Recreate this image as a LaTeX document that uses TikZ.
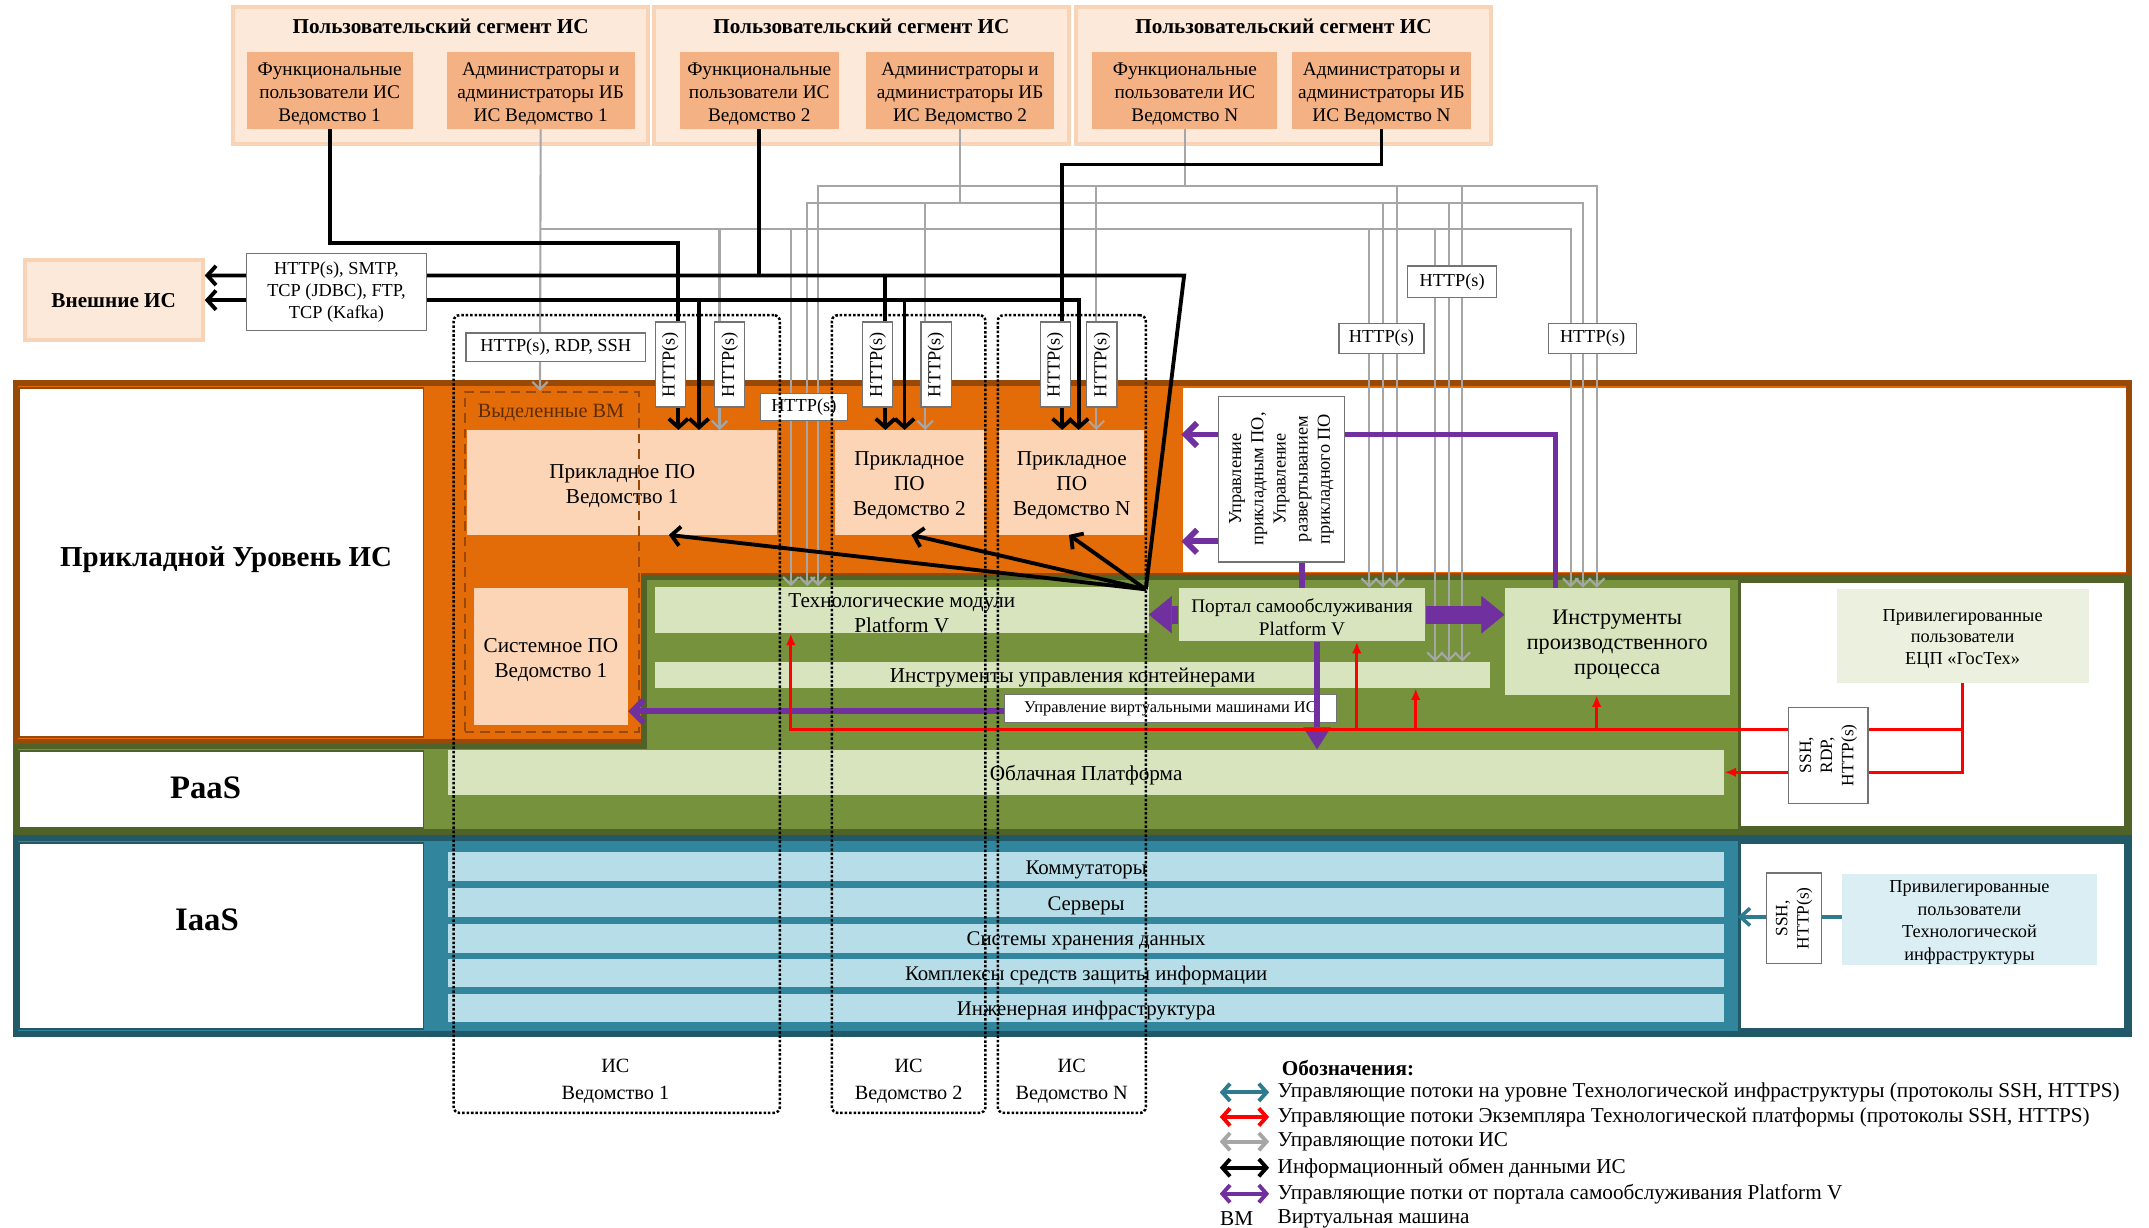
\documentclass[tikz,border=0pt]{standalone}
\usepackage{fontspec}
\setmainfont{Liberation Serif}
\usetikzlibrary{arrows.meta}
\usetikzlibrary{calc}
\usetikzlibrary{fit}
\definecolor{segfill}{HTML}{FDE9D9}
\definecolor{segedge}{HTML}{F9D3B6}
\definecolor{userfill}{HTML}{F4B183}
\definecolor{apporange}{HTML}{E36C09}
\definecolor{appbrown}{HTML}{984807}
\definecolor{apppeach}{HTML}{FBD5B5}
\definecolor{paasgreen}{HTML}{76923C}
\definecolor{paasedge}{HTML}{4F6228}
\definecolor{paasstripe}{HTML}{D7E4BD}
\definecolor{paaslight}{HTML}{EBF1DE}
\definecolor{iaasteal}{HTML}{31859C}
\definecolor{iaasedge}{HTML}{215968}
\definecolor{iaasstripe}{HTML}{B7DEE8}
\definecolor{iaaslight}{HTML}{DBEEF4}
\definecolor{flowpurple}{HTML}{7030A0}
\definecolor{flowred}{HTML}{FF0000}
\definecolor{flowgray}{HTML}{A6A6A6}
\definecolor{flowteal}{HTML}{2E7A8E}
\tikzset{segbox/.style = {fill=segfill, draw=segedge, line width=2pt, inner sep=0}}
\tikzset{segtitle/.style = {font=\bfseries\fontsize{11}{13}\selectfont, inner sep=0}}
\tikzset{userbox/.style = {fill=userfill, inner sep=0}}
\tikzset{usertext/.style = {align=center, inner sep=0, yshift=-1.8pt, font=\fontsize{10}{12}\selectfont}}
\tikzset{lblrow/.style = {fill=white, line width=1pt, inner sep=0}}
\tikzset{rowtext/.style = {font=\bfseries\fontsize{15}{17}\selectfont, inner sep=0}}
\tikzset{rowbig/.style = {font=\bfseries\fontsize{17}{19}\selectfont, inner sep=0}}
\tikzset{iaasbar/.style = {fill=iaasstripe, inner sep=0}}
\tikzset{iaastext/.style = {align=center, inner sep=0, yshift=-1.5pt, font=\fontsize{10.8}{12}\selectfont}}
\tikzset{paasbar/.style = {fill=paasstripe, inner sep=0}}
\tikzset{bartext/.style = {align=center, inner sep=0, yshift=-1.5pt, font=\fontsize{11}{13}\selectfont}}
\tikzset{appbox/.style = {fill=apppeach, inner sep=0}}
\tikzset{apptext/.style = {align=center, inner sep=0, yshift=-1.8pt, font=\fontsize{11}{13}\selectfont}}
\tikzset{vmbox/.style = {draw=appbrown, line width=1.1pt, dash pattern=on 5pt off 3pt, inner sep=0}}
\tikzset{lblbox/.style = {fill=white, draw=black!55, line width=0.6pt, inner sep=0, align=center,
                          font=\fontsize{9.5}{11.5}\selectfont}}
\tikzset{lbltext/.style = {align=center, inner sep=0, font=\fontsize{9.5}{11.5}\selectfont}}
\tikzset{isbox/.style = {draw=black, densely dotted, line width=1.3pt, rounded corners=3pt, inner sep=0}}
\tikzset{istext/.style = {align=center, inner sep=0, font=\fontsize{10.5}{14}\selectfont}}
\tikzset{blk/.style = {black, line width=2pt}}
\tikzset{blkarr/.style = {blk, -{Straight Barb[length=4.5pt,width=10pt]}}}
\tikzset{blkboth/.style = {blk, {Straight Barb[length=4.5pt,width=10pt]}-{Straight Barb[length=4.5pt,width=10pt]}}}
\tikzset{gry/.style = {flowgray, line width=1.1pt}}
\tikzset{gryarr/.style = {gry, -{Straight Barb[length=4pt,width=8pt]}}}
\tikzset{pur/.style = {flowpurple, line width=3pt}}
\tikzset{purarr/.style = {pur, -{Straight Barb[length=6pt,width=12pt]}}}
\tikzset{purfat/.style = {flowpurple, line width=0.33cm,
                          -{Triangle[length=0.42cm,width=0.68cm,line width=0.2pt]}}}
\tikzset{purdown/.style = {flowpurple, line width=0.12cm,
                           -{Triangle[length=0.4cm,width=0.5cm,line width=0.2pt]}}}
\tikzset{redarr/.style = {flowred, line width=1.5pt, -{Latex[length=6pt,width=5pt]}}}
\tikzset{tealarr/.style = {flowteal, line width=1.8pt, -{Straight Barb[length=5pt,width=9pt]}}}
\tikzset{legarr/.style = {line width=2pt, {Straight Barb[length=4pt,width=9pt]}-{Straight Barb[length=4pt,width=9pt]}}}
\tikzset{legtext/.style = {anchor=west, inner sep=0, font=\fontsize{11}{13}\selectfont}}

\begin{document}
\begin{tikzpicture}[x=0.025cm, y=-0.025cm]
\useasboundingbox (0,0) rectangle (1568,896);

% user segments
\node[segbox, fit={(170,5) (473,105)}] (seg1) {};
\node[segbox, fit={(477,5) (780,105)}] (seg2) {};
\node[segbox, fit={(785,5) (1088,105)}] (seg3) {};
\node[segtitle] (seg1t) at (321.5,19.5) {Пользовательский сегмент ИС};
\node[segtitle] (seg2t) at (628.5,19.5) {Пользовательский сегмент ИС};
\node[segtitle] (seg3t) at (936.5,19.5) {Пользовательский сегмент ИС};
\node[userbox, fit={(180,38) (301,94)}] (f1) {};
\node[userbox, fit={(326,38) (463,94)}] (a1) {};
\node[userbox, fit={(496,38) (612,94)}] (f2) {};
\node[userbox, fit={(632,38) (769,94)}] (a2) {};
\node[userbox, fit={(797,38) (932,94)}] (fN) {};
\node[userbox, fit={(943,38) (1073,94)}] (aN) {};
\node[usertext] (f1t) at (f1) {Функциональные\\пользователи ИС\\Ведомство 1};
\node[usertext] (a1t) at (a1) {Администраторы и\\администраторы ИБ\\ИС Ведомство 1};
\node[usertext] (f2t) at (f2) {Функциональные\\пользователи ИС\\Ведомство 2};
\node[usertext] (a2t) at (a2) {Администраторы и\\администраторы ИБ\\ИС Ведомство 2};
\node[usertext] (fNt) at (fN) {Функциональные\\пользователи ИС\\Ведомство N};
\node[usertext] (aNt) at (aN) {Администраторы и\\администраторы ИБ\\ИС Ведомство N};
\node[segbox, fit={(18,190) (148,248)}] (ext) {};
\node[segtitle] (extt) at (ext) {Внешние ИС};

% layers
\filldraw[draw=appbrown, line width=2.8pt, fill=apporange]
  (11.5,279.5) -- (1553.5,279.5) -- (1553.5,420) -- (470,420) -- (470,541) -- (11.5,541) -- cycle;
\node[lblrow, draw=appbrown, fit={(14,283) (309,538)}] (lapp) {};
\fill[white] (863,283) rectangle (1551,417);
\filldraw[draw=paasedge, line width=2.8pt, fill=paasgreen]
  (470,421.5) -- (1553.5,421.5) -- (1553.5,607) -- (11.5,607) -- (11.5,544.5) -- (470,544.5) -- cycle;
\node[lblrow, draw=paasedge, fit={(14,548) (309,604)}] (lpaas) {};
\filldraw[draw=paasedge, line width=1.5pt, fill=white] (1269,424) rectangle (1551,604);
\filldraw[draw=iaasedge, line width=2.8pt, fill=iaasteal] (11.5,611.5) rectangle (1553.5,754.5);
\node[lblrow, draw=iaasedge, fit={(14,615) (309,751)}] (liaas) {};
\filldraw[draw=iaasedge, line width=1.5pt, fill=white] (1269,615) rectangle (1551,751);
\node[rowtext] (lappt) at (165,408) {Прикладной Уровень ИС};
\node[rowbig] (lpaast) at (150,575) {PaaS};
\node[rowbig] (liaast) at (151,671) {IaaS};

% IaaS
\node[iaasbar, fit={(327,622) (1258,643)}] (sw) {};
\node[iaasbar, fit={(327,648) (1258,669)}] (srv) {};
\node[iaasbar, fit={(327,674) (1258,695)}] (shd) {};
\node[iaasbar, fit={(327,700) (1258,720)}] (kszi) {};
\node[iaasbar, fit={(327,725) (1258,746)}] (ii) {};
\node[iaasbar, fill=iaaslight, fit={(1344,638) (1530,704)}] (pt) {};
\node[iaastext] (swt) at (sw) {Коммутаторы};
\node[iaastext] (srvt) at (srv) {Серверы};
\node[iaastext] (shdt) at (shd) {Системы хранения данных};
\node[iaastext] (kszit) at (kszi) {Комплексы средств защиты информации};
\node[iaastext] (iit) at (ii) {Инженерная инфраструктура};
\node[iaastext, font=\fontsize{9.5}{11.8}\selectfont] (ptt) at (pt)
  {Привилегированные\\пользователи\\Технологической\\инфраструктуры};

% PaaS
\node[paasbar, fit={(327,547) (1258,580)}] (cp) {};
\node[paasbar, fit={(478,428) (838,462)}] (tm) {};
\node[paasbar, fit={(478,483) (1087,502)}] (ic) {};
\node[paasbar, fit={(860,429) (1040,468)}] (portal) {};
\node[paasbar, fit={(1098,429) (1262,507)}] (ipp) {};
\node[paasbar, fill=paaslight, fit={(1340,430) (1524,498)}] (pe) {};
\node[bartext] (cpt) at (cp) {Облачная Платформа};
\node[bartext] (tmt) at (tm) {Технологические модули\\Platform V};
\node[bartext] (ict) at (ic) {Инструменты управления контейнерами};
\node[bartext, font=\fontsize{10}{12}\selectfont] (portalt) at (portal) {Портал самообслуживания\\Platform V};
\node[bartext, font=\fontsize{11.5}{13}\selectfont] (ippt) at (ipp) {Инструменты\\производственного\\процесса};
\node[bartext, font=\fontsize{9.5}{11}\selectfont] (pet) at (pe) {Привилегированные\\пользователи\\ЕЦП «ГосТех»};

% applications
\node[appbox, fit={(341,314) (567,390)}] (app1) {};
\node[appbox, fit={(609,314) (718,390)}] (app2) {};
\node[appbox, fit={(729,314) (835,390)}] (appN) {};
\node[appbox, fit={(346,429) (458,529)}] (sys1) {};
\node[apptext] (app1t) at (app1) {Прикладное ПО\\Ведомство 1};
\node[apptext] (app2t) at (app2) {Прикладное\\ПО\\Ведомство 2};
\node[apptext] (appNt) at (appN) {Прикладное\\ПО\\Ведомство N};
\node[apptext] (sys1t) at (sys1) {Системное ПО\\Ведомство 1};
\node[vmbox, fit={(339,286) (466,534)}] (vm) {};
\node[inner sep=0, text=appbrown!60!black, font=\fontsize{10.5}{12}\selectfont] (vmt) at (402,301) {Выделенные ВМ};
\coordinate (hub) at (836,430);

\node[lblbox, fit={(889,289) (981,410)}] (mgmt) {};
\node[rotate=90, lbltext] (mgmtt) at (mgmt.center)
  {Управление\\прикладным ПО,\\Управление\\развертыванием\\прикладного ПО};
\node[lblbox, fit={(733,507) (975,527)}] (vmctl) {};
\node[lbltext, font=\fontsize{8.5}{10}\selectfont] (vmctlt) at (vmctl) {Управление виртуальными машинами ИС};

% gray flows
\draw[gryarr] (a1.south) -- (394,0 |- vm.north);
\draw[gryarr] (394,167) -| (577,0 |- tm.north);
\draw[gryarr] (577,167) -| (1146,0 |- ipp.north);
\draw[gryarr] (525,167) -- (525,0 |- app1.north);
\draw[gryarr] (999,167) -- (999,0 |- portal.north);
\draw[gryarr] (1047,167) -- (1047,0 |- ic.north);
\draw[gry] (a2.south) -- (a2.south |- 0,148);
\draw[gryarr] (700,148) -| (589,0 |- tm.north);
\draw[gryarr] (700,148) -| (1155,0 |- ipp.north);
\draw[gryarr] (675,148) -- (675,0 |- app2.north);
\draw[gryarr] (1009,148) -- (1009,0 |- portal.north);
\draw[gryarr] (1057,148) -- (1057,0 |- ic.north);
\draw[gry] (fN.south) -- (fN.south |- 0,136);
\draw[gryarr] (865,136) -| (597,0 |- tm.north);
\draw[gryarr] (865,136) -| (1165,0 |- ipp.north);
\draw[gryarr] (800,136) -- (800,0 |- appN.north);
\draw[gryarr] (1019,136) -- (1019,0 |- portal.north);
\draw[gryarr] (1067,136) -- (1067,0 |- ic.north);

% black flows
\draw[blkarr] (f1.south) |- (495,177) -- (495,0 |- app1.north);
\draw[blkarr] (hub) -- (864,201) -- (ext.east |- 0,201);
\draw[blk] (f2.south) -- (f2.south |- 0,201);
\draw[blkarr] (646,201) -- (646,0 |- app2.north);
\draw[blkboth] (787,0 |- appN.north) -- (787,219) -- (ext.east |- 0,219);
\draw[blkarr] (510,219) -- (510,0 |- app1.north);
\draw[blkarr] (660,219) -- (660,0 |- app2.north);
\draw[blkarr] (aN.south) |- (775,120) -- (775,0 |- appN.north);
\draw[blkarr] (hub) -- (488,0 |- app1.south);
\draw[blkarr] (hub) -- (665,0 |- app2.south);
\draw[blkarr] (hub) -- (780,0 |- appN.south);

% purple flows
\draw[purarr] (mgmt.west |- 0,317) -- (862,317);
\draw[purarr] (mgmt.west |- 0,395) -- (862,395);
\draw[pur] (mgmt.east |- 0,317) -| (1135,0 |- ipp.north);
\draw[pur] (950,0 |- mgmt.south) -- (950,0 |- portal.north);
\draw[purfat] (portal.west) -- (portal.west -| tm.east);
\draw[purfat] (portal.east) -- (portal.east -| ipp.west);
\draw[purdown] (961,0 |- portal.south) -- (961,0 |- cp.north);
\draw[purarr] (vmctl.west |- 0,519) -- (sys1.east |- 0,519);

% red flows
\draw[redarr] (pe.south) |- (cp.east);
\draw[redarr] (1432,532) -| (577,0 |- tm.south);
\draw[redarr] (990,532) -- (990,0 |- portal.south);
\draw[redarr] (1033,532) -- (1033,0 |- ic.south);
\draw[redarr] (1165,532) -- (1165,0 |- ipp.south);

% teal flow
\draw[tealarr] (pt.west |- 0,669) -- (1268,669);

% protocol labels
\node[lblbox, fit={(180,185) (311,241)}] (extp) {};
\node[lbltext] (extpt) at (extp) {HTTP(s), SMTP,\\TCP (JDBC), FTP,\\TCP (Kafka)};
\node[lblbox, fit={(340,243) (471,264)}] (hrs) {};
\node[lbltext] (hrst) at (hrs) {HTTP(s), RDP, SSH};
\node[lblbox, rotate=90, minimum width=1.55cm, minimum height=0.55cm] (v1a) at (489,266) {HTTP(s)};
\node[lblbox, rotate=90, minimum width=1.55cm, minimum height=0.55cm] (v1b) at (532.5,266) {HTTP(s)};
\node[lblbox, rotate=90, minimum width=1.55cm, minimum height=0.55cm] (v2a) at (640.5,266) {HTTP(s)};
\node[lblbox, rotate=90, minimum width=1.55cm, minimum height=0.55cm] (v2b) at (683,266) {HTTP(s)};
\node[lblbox, rotate=90, minimum width=1.55cm, minimum height=0.55cm] (vNa) at (770,266) {HTTP(s)};
\node[lblbox, rotate=90, minimum width=1.55cm, minimum height=0.55cm] (vNb) at (804,266) {HTTP(s)};
\node[lblbox, minimum width=1.58cm, minimum height=0.5cm] (hm) at (586.5,297) {HTTP(s)};
\node[lblbox, minimum width=1.55cm, minimum height=0.55cm] (h1) at (1008,247) {HTTP(s)};
\node[lblbox, minimum width=1.62cm, minimum height=0.57cm] (h2) at (1059.5,205.5) {HTTP(s)};
\node[lblbox, minimum width=1.6cm, minimum height=0.55cm] (h3) at (1162,247) {HTTP(s)};
\node[lblbox, rotate=90, minimum width=1.75cm, minimum height=1.45cm, font=\fontsize{9}{11}\selectfont]
  (ssh1) at (1334,551) {SSH,\\RDP,\\HTTP(s)};
\node[lblbox, rotate=90, minimum width=1.65cm, minimum height=1.0cm, font=\fontsize{9}{11}\selectfont]
  (ssh2) at (1309,670) {SSH,\\HTTP(s)};

% IS of agencies
\node[isbox, fit={(331,230) (569,812)}] (is1) {};
\node[isbox, fit={(607,230) (719,812)}] (is2) {};
\node[isbox, fit={(728,230) (836,812)}] (isN) {};
\node[istext] (is1t) at (449,789) {ИС\\Ведомство 1};
\node[istext] (is2t) at (663,789) {ИС\\Ведомство 2};
\node[istext] (isNt) at (782,789) {ИС\\Ведомство N};

% legend
\node[legtext, font=\bfseries\fontsize{11}{13}\selectfont] (lgt) at (935,779) {Обозначения:};
\node[legtext] (lg1) at (932,797) {Управляющие потоки на уровне Технологической инфраструктуры (протоколы SSH, HTTPS)};
\node[legtext] (lg2) at (932,815) {Управляющие потоки Экземпляра Технологической платформы (протоколы SSH, HTTPS)};
\node[legtext] (lg3) at (932,833) {Управляющие потоки ИС};
\node[legtext] (lg4) at (932,852) {Информационный обмен данными ИС};
\node[legtext] (lg5) at (932,871) {Управляющие потки от портала самообслуживания Platform V};
\node[legtext] (lg6) at (932,889) {Виртуальная машина};
\node[legtext] (lgvm) at (890,889) {ВМ};
\draw[legarr, flowteal] ($(lg1.west)+(-42,0)$) -- ($(lg1.west)+(-6,0)$);
\draw[legarr, flowred] ($(lg2.west)+(-42,0)$) -- ($(lg2.west)+(-6,0)$);
\draw[legarr, flowgray] ($(lg3.west)+(-42,0)$) -- ($(lg3.west)+(-6,0)$);
\draw[legarr, black] ($(lg4.west)+(-42,0)$) -- ($(lg4.west)+(-6,0)$);
\draw[legarr, flowpurple] ($(lg5.west)+(-42,0)$) -- ($(lg5.west)+(-6,0)$);
\end{tikzpicture}
\end{document}
